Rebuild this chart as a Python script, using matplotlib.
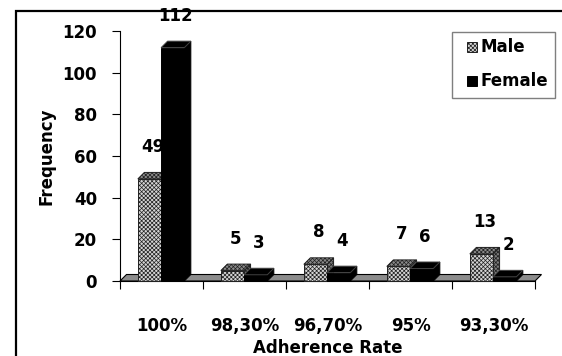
import matplotlib
matplotlib.use("Agg")
import matplotlib.pyplot as plt
from matplotlib.patches import Rectangle, Polygon

# Data
categories = ["100%", "98,30%", "96,70%", "95%", "93,30%"]
male = [49, 5, 8, 7, 13]
female = [112, 3, 4, 6, 2]
series_names = ["Male", "Female"]
y_ticks = [0, 20, 40, 60, 80, 100, 120]

W, H = 562, 356
fig = plt.figure(figsize=(W / 100, H / 100), dpi=100)
plt.rcParams["hatch.linewidth"] = 0.5
plt.rcParams["hatch.color"] = "#404040"


def fx(px):
    return px / W


def fy(py):
    return 1 - py / H


ax = fig.add_axes([fx(120), fy(281), fx(535) - fx(120), fy(31) - fy(281)])
ax.set_xlim(0, len(categories))
ax.set_ylim(0, 120)

# 3-D depth offsets (data units)
dx = 6.5 / 83.0
dy = 6.5 * 120 / 250.0

FONT = dict(family="DejaVu Sans", fontweight="bold", fontsize=12)

# Floor of the 3-D plot
floor = Polygon([(0, 0), (len(categories), 0), (len(categories) + dx, dy), (dx, dy)],
                closed=True, facecolor="#8c8c8c", edgecolor="black", lw=0.8,
                clip_on=False, zorder=1)
ax.add_patch(floor)

bar_w = 0.28
male_off = 0.215


def draw_bar(x0, h, front_kw, top_kw, side_kw, z):
    front = Rectangle((x0, 0), bar_w, h, clip_on=False, zorder=z, **front_kw)
    top = Polygon([(x0, h), (x0 + bar_w, h), (x0 + bar_w + dx, h + dy), (x0 + dx, h + dy)],
                  closed=True, clip_on=False, zorder=z, **top_kw)
    side = Polygon([(x0 + bar_w, 0), (x0 + bar_w + dx, dy), (x0 + bar_w + dx, h + dy), (x0 + bar_w, h)],
                   closed=True, clip_on=False, zorder=z, **side_kw)
    ax.add_patch(side)
    ax.add_patch(front)
    ax.add_patch(top)


male_front = dict(facecolor="#d4d4d4", edgecolor="#202020", hatch="xxxxxxxx", lw=0.7)
male_top = dict(facecolor="#8a8a8a", edgecolor="#202020", hatch="xxxxxxxx", lw=0.7)
male_side = dict(facecolor="#7a7a7a", edgecolor="#202020", hatch="xxxxxxxx", lw=0.7)
fem_front = dict(facecolor="black", edgecolor="black", lw=0.7)
fem_top = dict(facecolor="black", edgecolor="#404040", lw=0.7)
fem_side = dict(facecolor="black", edgecolor="black", lw=0.7)

for i, (m, f) in enumerate(zip(male, female)):
    xm = i + male_off
    xf = xm + bar_w
    draw_bar(xm, m, male_front, male_top, male_side, 3 + i * 2)
    draw_bar(xf, f, fem_front, fem_top, fem_side, 4 + i * 2)
    for x0, v in ((xm, m), (xf, f)):
        ax.annotate(str(v), (x0 + bar_w / 2 + dx / 2, v), xytext=(0, 23),
                    textcoords="offset points", ha="center", va="center",
                    zorder=20, **FONT)

# Axes styling
for s in ("top", "right"):
    ax.spines[s].set_visible(False)
ax.spines["left"].set_color("black")
ax.spines["left"].set_linewidth(0.8)

ax.set_yticks(y_ticks)
ax.set_yticklabels([str(t) for t in y_ticks], **FONT)
ax.tick_params(axis="y", length=6, width=0.8, pad=10.5, direction="out")

ax.set_xticks([i + 0.5 for i in range(len(categories))])
ax.set_xticklabels(categories, **FONT)
ax.set_xticks(range(len(categories) + 1), minor=True)
ax.tick_params(axis="x", which="major", length=0, pad=26)
ax.tick_params(axis="x", which="minor", length=6, width=0.8, direction="out")
ax.spines["bottom"].set_color("black")
ax.spines["bottom"].set_linewidth(0.8)
ax.spines["bottom"].set_zorder(0)

ax.set_xlabel("Adherence Rate", labelpad=3, **FONT)
ax.set_ylabel("Frequency", labelpad=5, **FONT)
ax.patch.set_alpha(0)

# Legend box
fig.add_artist(Rectangle((fx(452), fy(98)), fx(555) - fx(452), fy(32) - fy(98),
                         transform=fig.transFigure, facecolor="white",
                         edgecolor="#7f7f7f", lw=1.0))
legend_rows = [(47, male_front), (81, fem_front)]
for name, (yc, style) in zip(series_names, legend_rows):
    fig.add_artist(Rectangle((fx(467), fy(yc + 5)), fx(477) - fx(467), fy(yc - 5) - fy(yc + 5),
                             transform=fig.transFigure, **style))
    fig.text(fx(480), fy(yc), name, ha="left", va="center", **FONT)

# Outer chart frame
fig.add_artist(Rectangle((fx(16), fy(H + 20)), 2, fy(11) - fy(H + 20),
                         transform=fig.transFigure, facecolor="none",
                         edgecolor="black", lw=1.6))

fig.savefig("out.png", dpi=100)
